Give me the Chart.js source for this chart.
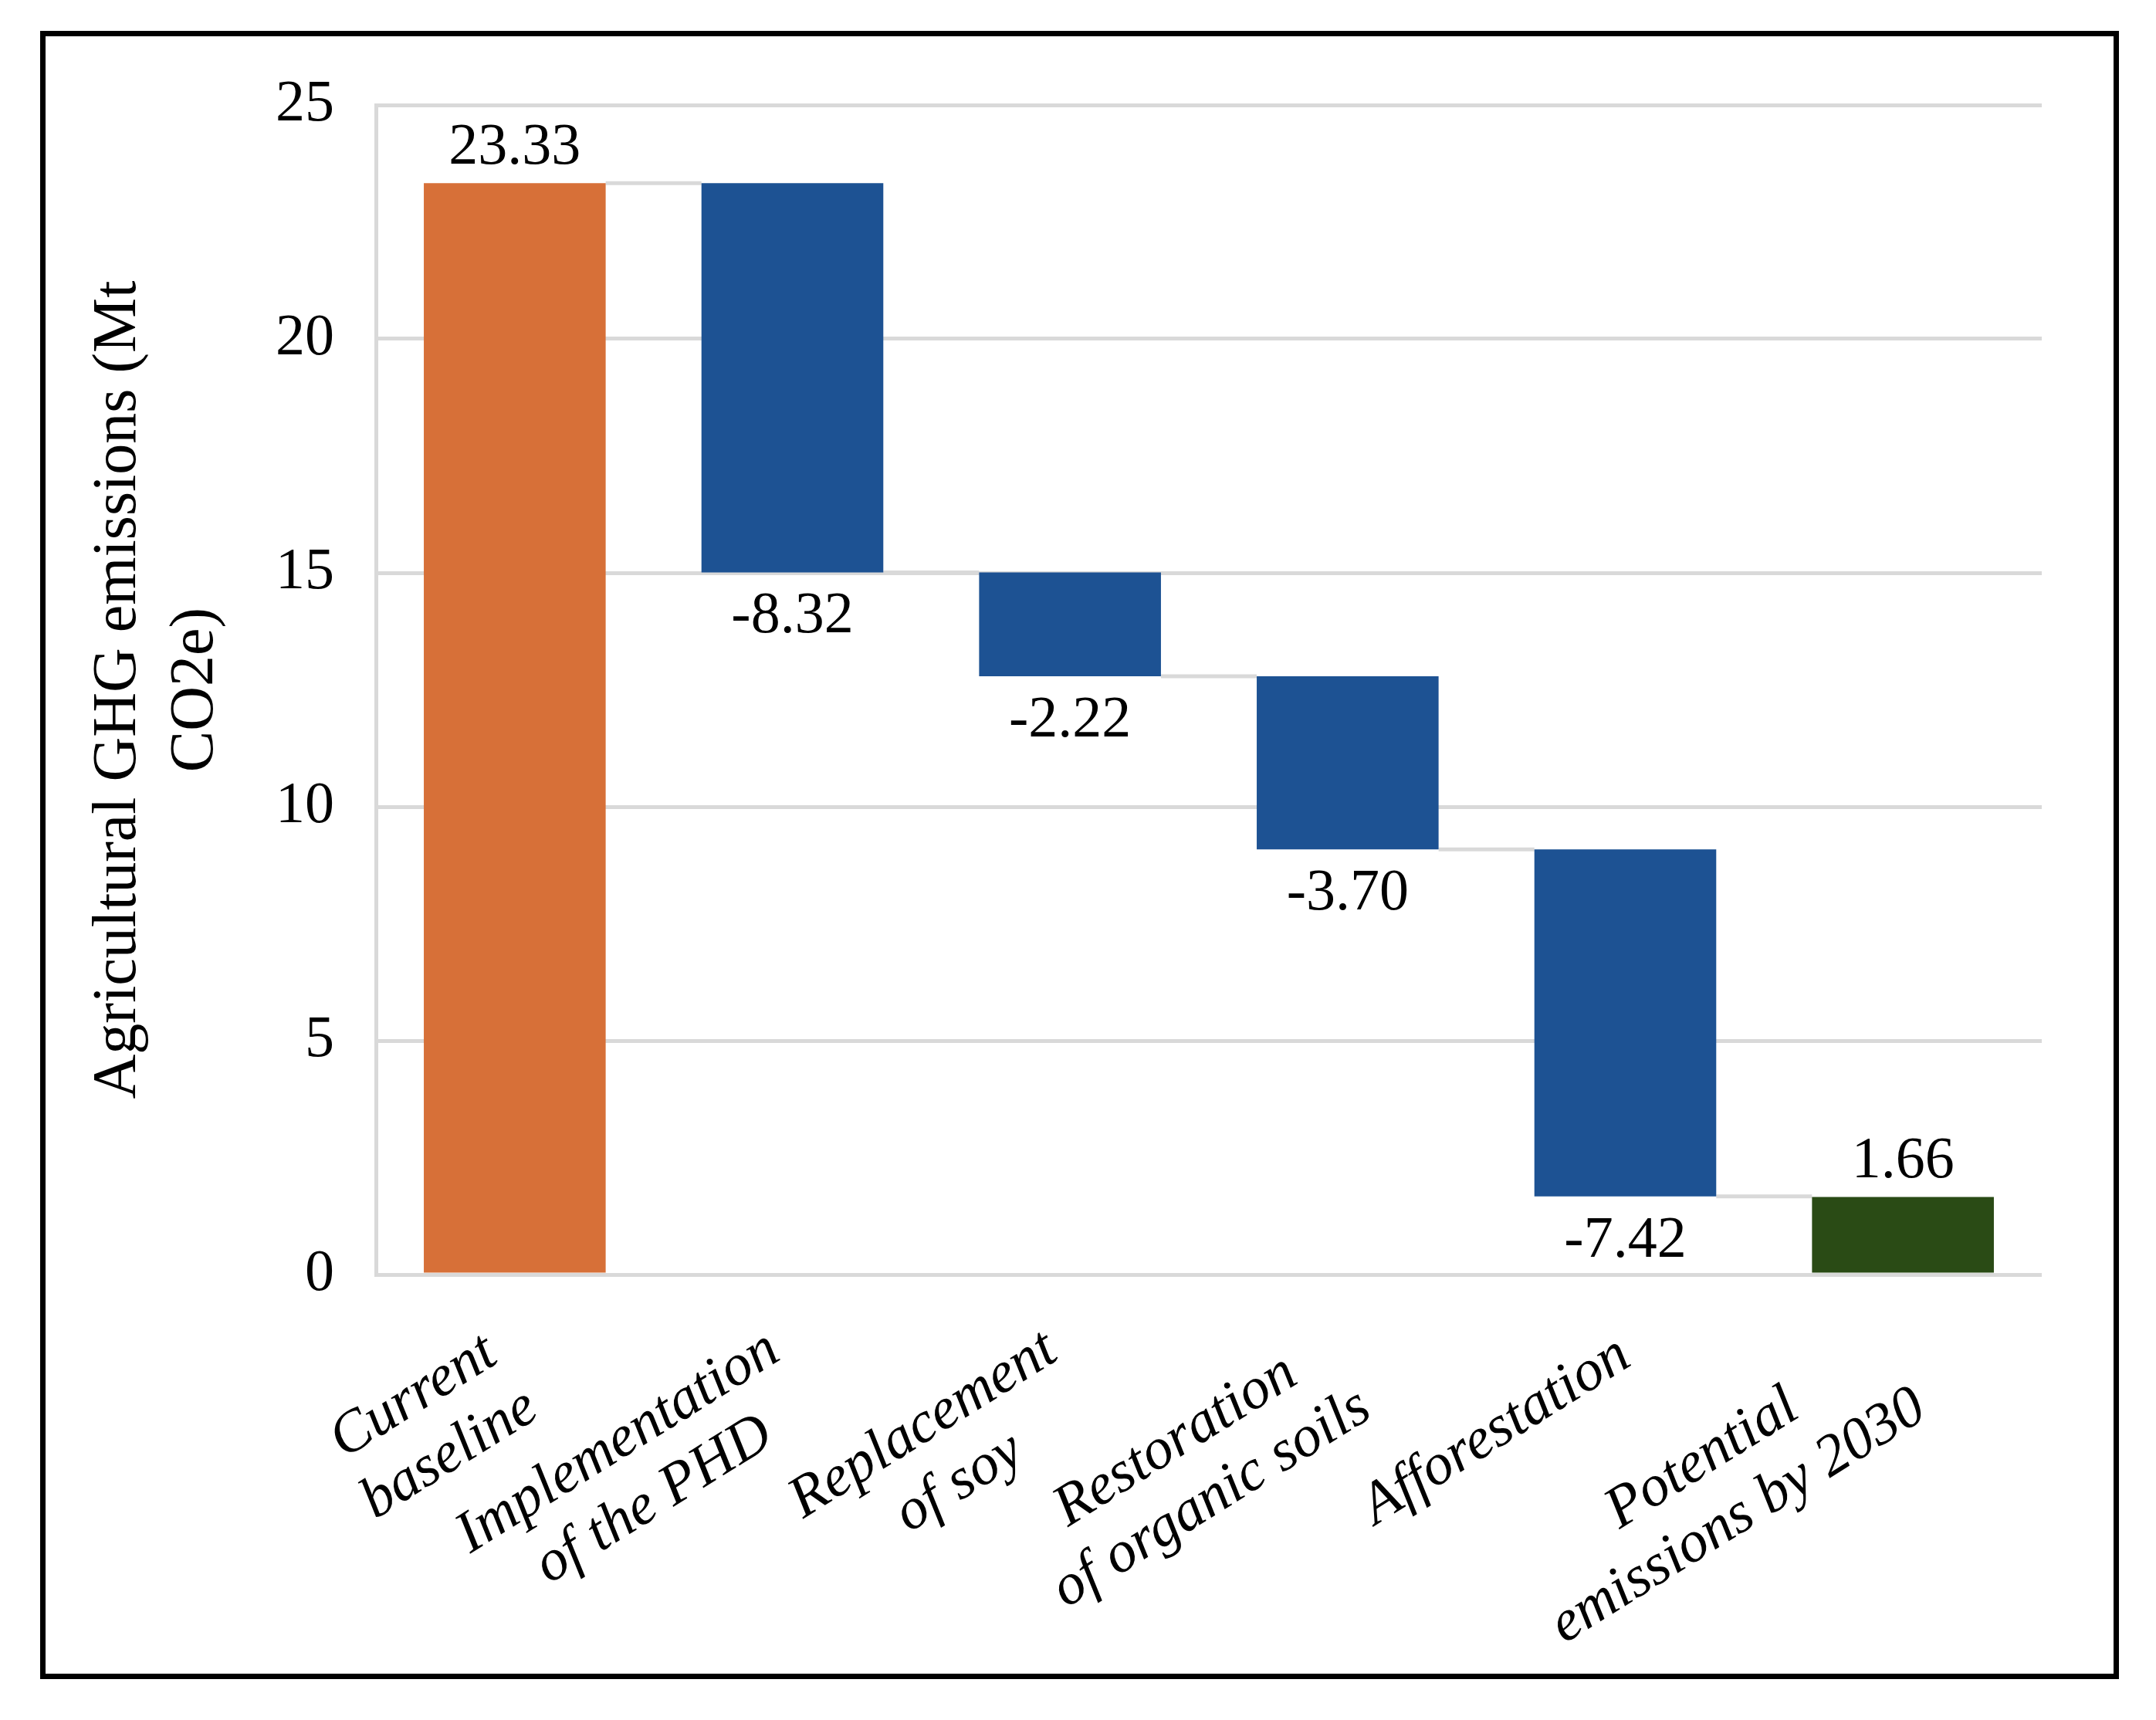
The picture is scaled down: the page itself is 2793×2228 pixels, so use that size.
<!DOCTYPE html>
<html>
<head>
<meta charset="utf-8">
<script src="https://cdn.jsdelivr.net/npm/chart.js@4.4.1/dist/chart.umd.min.js"></script>
<style>
    body { margin: 0; background: #fff; }
    #wrap { position: relative; width: 2793px; height: 2228px; }
    #frame {
        position: absolute; left: 52px; top: 40px;
        width: 2693px; height: 2135px;
        border: 7px solid #000; box-sizing: border-box;
        pointer-events: none;
    }
</style>
</head>
<body>
<div id="wrap">
    <canvas id="myChart" width="2793" height="2228"></canvas>
    <div id="frame"></div>
</div>
<script>
// data
var categorias = [
    ['Current', 'baseline'],
    ['Implementation', 'of the PHD'],
    ['Replacement', 'of soy'],
    ['Restoration', 'of organic soils'],
    ['Afforestation'],
    ['Potential', 'emissions by 2030']
];
var valores = [23.33, -8.32, -2.22, -3.70, -7.42, 1.66];
var totais = [true, false, false, false, false, true];
var yTicks = [0, 5, 10, 15, 20, 25];

var cores = {
    total1: '#D77038',
    passo: '#1D5293',
    total2: '#2A4B15',
    grelha: '#d9d9d9'
};
var fonte = '"Liberation Serif", "Times New Roman", serif';

// floating bars for the waterfall
var barras = [];
var fundos = [];
var acumulado = 0;
for (var i = 0; i < valores.length; i++) {
    if (totais[i]) {
        barras.push([0, valores[i]]);
        acumulado = valores[i];
        fundos.push(i == 0 ? cores.total1 : cores.total2);
    } else {
        barras.push([acumulado + valores[i], acumulado]);
        acumulado = acumulado + valores[i];
        fundos.push(cores.passo);
    }
}

// connector lines between bars
var ligacoes = {
    id: 'ligacoes',
    beforeDatasetsDraw: function (chart) {
        var ctx = chart.ctx;
        var meta = chart.getDatasetMeta(0);
        var y = chart.scales.y;
        ctx.save();
        ctx.strokeStyle = cores.grelha;
        ctx.lineWidth = 5;
        for (var i = 0; i < meta.data.length - 1; i++) {
            var a = meta.data[i], b = meta.data[i + 1];
            var nivel = totais[i] ? barras[i][1] : barras[i][0];
            var py = y.getPixelForValue(nivel);
            ctx.beginPath();
            ctx.moveTo(a.x + a.width / 2, py);
            ctx.lineTo(b.x - b.width / 2, py);
            ctx.stroke();
        }
        ctx.restore();
    }
};

// value labels
var rotulos = {
    id: 'rotulos',
    afterDatasetsDraw: function (chart) {
        var ctx = chart.ctx;
        var meta = chart.getDatasetMeta(0);
        var y = chart.scales.y;
        ctx.save();
        ctx.fillStyle = '#000';
        ctx.font = '76px ' + fonte;
        ctx.textAlign = 'center';
        for (var i = 0; i < meta.data.length; i++) {
            var el = meta.data[i];
            var txt = valores[i].toFixed(2);
            if (totais[i]) {
                ctx.textBaseline = 'alphabetic';
                ctx.fillText(txt, el.x, y.getPixelForValue(barras[i][1]) - 25);
            } else {
                ctx.textBaseline = 'top';
                ctx.fillText(txt, el.x, y.getPixelForValue(barras[i][0]) + 20);
            }
        }
        ctx.restore();
    }
};

// rotated category labels, lines centred like the original
var eixoX = {
    id: 'eixoX',
    afterDraw: function (chart) {
        var ctx = chart.ctx;
        var x = chart.scales.x;
        var base = chart.chartArea.bottom;
        var ang = 32 * Math.PI / 180;
        var alt = 88;
        ctx.save();
        ctx.fillStyle = '#000';
        ctx.font = 'italic 76px ' + fonte;
        ctx.textAlign = 'center';
        ctx.textBaseline = 'middle';
        for (var i = 0; i < categorias.length; i++) {
            var linhas = categorias[i];
            var n = linhas.length;
            var maxW = 0;
            linhas.forEach(function (l) { maxW = Math.max(maxW, ctx.measureText(l).width); });
            ctx.save();
            ctx.translate(x.getPixelForValue(i), base + 99 + 30 * (n - 1));
            ctx.rotate(-ang);
            for (var j = 0; j < n; j++) {
                ctx.fillText(linhas[j], -maxW / 2, (j - (n - 1) / 2) * alt);
            }
            ctx.restore();
        }
        ctx.restore();
    }
};

var ctx = document.getElementById('myChart');
var myChart = new Chart(ctx, {
    type: 'bar',
    data: {
        labels: categorias,
        datasets: [{
            label: 'Emissions',
            data: barras,
            backgroundColor: fundos,
            borderWidth: 0,
            barPercentage: 0.655,
            categoryPercentage: 1
        }]
    },
    options: {
        responsive: false,
        devicePixelRatio: 1,
        animation: false,
        layout: {
            padding: { left: 55, top: 136, right: 148, bottom: 577 }
        },
        plugins: {
            legend: { display: false },
            tooltip: { enabled: false }
        },
        scales: {
            x: {
                grid: { display: false },
                border: { display: false },
                ticks: { display: false },
                afterFit: function (s) { s.height = 0; }
            },
            y: {
                min: 0,
                max: 25,
                afterBuildTicks: function (s) {
                    s.ticks = yTicks.map(function (v) { return { value: v }; });
                },
                grid: { color: cores.grelha, lineWidth: 5, drawTicks: false },
                border: { display: true, color: cores.grelha, width: 5 },
                ticks: {
                    color: '#000',
                    padding: 54,
                    font: { family: fonte, size: 76 }
                },
                title: {
                    display: true,
                    text: ['Agricultural GHG emissions (Mt', 'CO2e)'],
                    color: '#000',
                    padding: { top: 49, bottom: 0 },
                    font: { family: fonte, size: 80, lineHeight: 1.25 }
                },
                afterFit: function (s) { s.width = 432; }
            }
        }
    },
    plugins: [ligacoes, rotulos, eixoX]
});
</script>
</body>
</html>
